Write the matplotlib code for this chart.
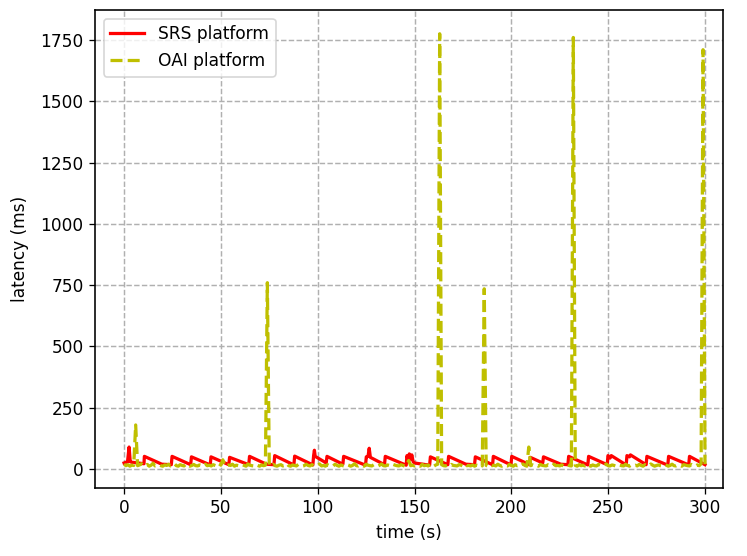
import matplotlib
matplotlib.use("Agg")
import matplotlib.pyplot as plt

# SRS platform: sawtooth latency (vertices)
srs_t = [0, 1.8, 2.6, 3.2, 4.0, 10.3,
         10.5, 19.5, 24.4,
         24.8, 34.4,
         34.8, 44.5,
         44.9, 54.1,
         54.5, 64.4,
         64.8, 73.5, 77.4,
         77.8, 87.7,
         88.1, 97.5,
         97.9, 98.3, 98.7, 104.4,
         104.8, 113.0,
         113.4, 124.7,
         125.1, 126.0, 126.6, 127.2, 134.5,
         134.9, 145.7,
         146.1, 146.7, 147.3, 148.0, 148.6, 149.3, 150.0, 157.8,
         158.2, 167.2,
         167.6, 176.5, 181.0,
         181.4, 190.3,
         190.7, 199.8,
         200.2, 209.4,
         209.8, 216.2,
         216.6, 225.5, 229.2,
         229.6, 239.5,
         239.9, 249.5,
         249.9, 251.0, 251.6, 259.3,
         259.7, 261.0, 261.5, 269.6,
         270.0, 280.8,
         281.2, 291.6,
         292.0, 300.0]
srs_v = [25, 30, 90, 30, 28, 22,
         52, 20, 18,
         52, 18,
         50, 17,
         50, 18,
         48, 18,
         52, 20, 18,
         55, 17,
         53, 17,
         55, 77, 52, 25,
         52, 20,
         52, 16,
         50, 52, 85, 48, 18,
         52, 16,
         55, 35, 62, 40, 58, 30, 25, 16,
         50, 18,
         52, 20, 18,
         50, 18,
         52, 17,
         52, 18,
         48, 25,
         50, 20, 18,
         52, 17,
         52, 18,
         55, 45, 55, 17,
         55, 50, 58, 18,
         52, 16,
         52, 17,
         52, 18]

# OAI platform: one sample per second, t = 0 .. 300
oai_v = [20, 14, 18, 12, 16, 15, 180, 14, 17, 22, 13, 15, 19, 12, 16, 24, 13, 15, 18, 14,
         12, 17, 15, 20, 13, 16, 22, 14, 12, 18, 15, 13, 21, 16, 12, 15, 19, 14, 13, 17,
         15, 12, 20, 14, 16, 13, 18, 15, 12, 22, 16, 38, 14, 13, 17, 15, 20, 12, 16, 14,
         13, 18, 15, 12, 21, 16, 14, 13, 19, 15, 12, 17, 14, 16, 760, 15, 13, 20, 14, 12,
         16, 18, 13, 15, 22, 14, 12, 17, 15, 13, 19, 16, 12, 14, 20, 15, 13, 18, 14, 12,
         16, 21, 13, 15, 12, 18, 14, 16, 13, 20, 15, 12, 17, 14, 13, 19, 16, 12, 15, 22,
         14, 13, 17, 15, 12, 20, 16, 14, 13, 18, 15, 12, 16, 21, 14, 13, 17, 15, 12, 19,
         16, 14, 13, 18, 15, 12, 20, 35, 14, 16, 13, 17, 15, 12, 19, 14, 16, 13, 21, 15,
         12, 17, 20, 1775, 18, 14, 13, 16, 12, 19, 15, 14, 13, 18, 16, 12, 20, 14, 15, 13,
         17, 12, 16, 14, 19, 13, 735, 15, 12, 18, 14, 16, 13, 20, 15, 12, 17, 14, 13, 19,
         15, 12, 18, 14, 16, 13, 21, 15, 12, 90, 14, 17, 13, 16, 12, 19, 15, 14, 13, 18,
         16, 12, 20, 14, 15, 13, 17, 12, 16, 19, 14, 13, 1760, 15, 12, 18, 14, 16, 13, 20,
         15, 12, 17, 14, 13, 19, 16, 12, 15, 21, 14, 13, 17, 15, 12, 18, 16, 14, 13, 20,
         15, 12, 17, 14, 16, 13, 19, 15, 12, 18, 14, 13, 21, 16, 12, 15, 17, 14, 13, 19,
         16, 12, 15, 20, 14, 13, 17, 15, 12, 18, 16, 14, 13, 19, 15, 12, 17, 14, 22, 1710,
         20]
oai_t = list(range(len(oai_v)))

labels = ["SRS platform", "OAI platform"]

plt.rcParams["font.size"] = 10.5

dpi = 116.7
fig = plt.figure(figsize=(747 / dpi, 556 / dpi), dpi=dpi)
ax = fig.add_axes([95 / 747, 68 / 556, 628 / 747, 478 / 556])

ax.plot(srs_t, srs_v, color="r", linestyle="-", linewidth=2.0, label=labels[0])
ax.plot(oai_t, oai_v, color="y", linestyle="--", linewidth=2.0, label=labels[1])

ax.set_xlim(-15, 309.3)
ax.set_ylim(-77, 1872)
ax.set_xticks([0, 50, 100, 150, 200, 250, 300])
ax.set_yticks([0, 250, 500, 750, 1000, 1250, 1500, 1750])
ax.grid(True, linestyle="--", color="#b0b0b0", linewidth=0.9)
ax.set_axisbelow(True)
for s in ax.spines.values():
    s.set_linewidth(1.0)
ax.set_xlabel("time (s)")
ax.set_ylabel("latency (ms)", labelpad=7)
ax.legend(loc="upper left")

fig.savefig("out.png", dpi=dpi)
